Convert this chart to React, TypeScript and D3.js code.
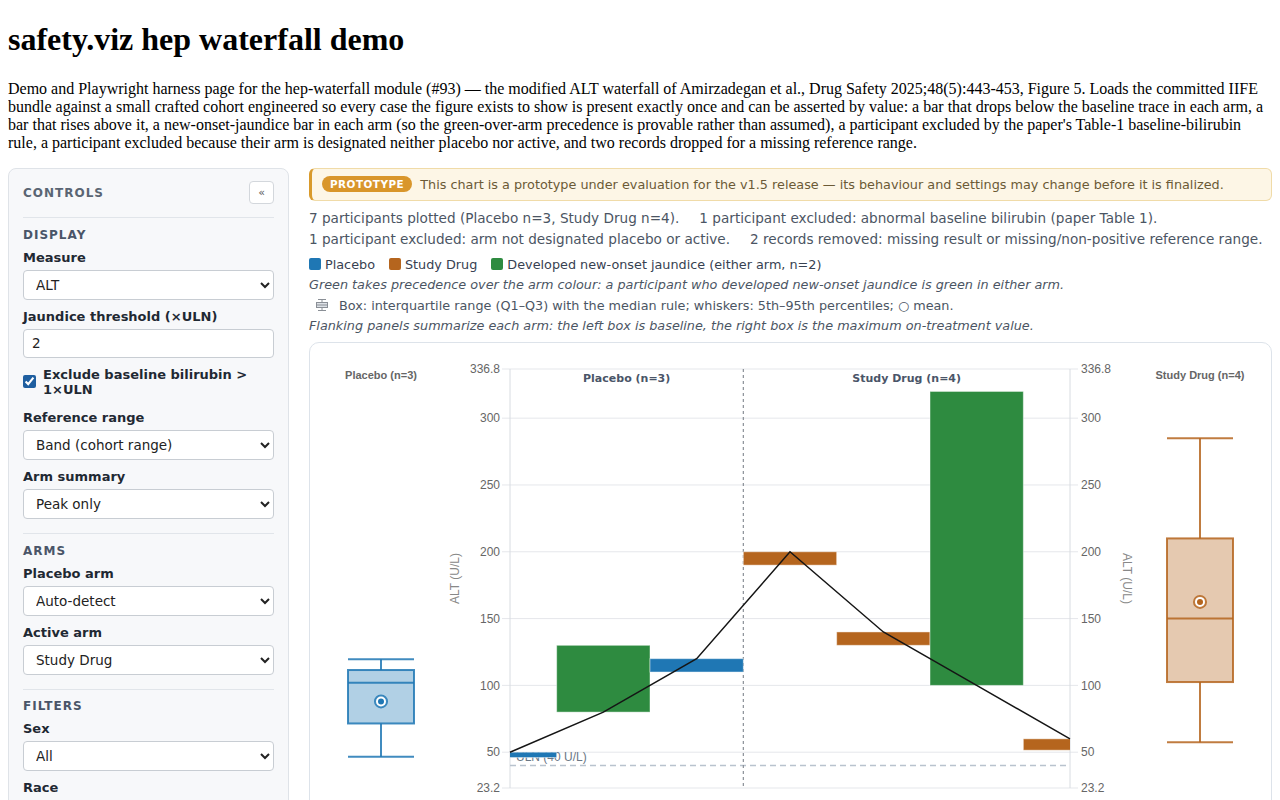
import React from "react";
import * as d3 from "d3";

// participants in plotted order (placebo first, then study drug)
const participantIds = ["P-01", "P-02", "P-03", "P-04", "P-05", "P-06", "P-07"];
const participantArm = ["Placebo", "Placebo", "Placebo", "Study Drug", "Study Drug", "Study Drug", "Study Drug"];
const baselineAlt = [50, 80, 120, 200, 140, 100, 60];
const peakAlt = [46, 130, 110, 190, 130, 320, 51.5];
const newJaundice = [false, true, false, false, false, true, false];

const armNames = ["Placebo", "Study Drug"];
const armCounts = [3, 4];
const yTickValues = [23.2, 50, 100, 150, 200, 250, 300, 336.8];
const yDomain = [23.2, 336.8];
const ulnAlt = 40;

// flanking summaries: p5, q1, median, q3, p95, mean
const placeboBox = [46.5, 71.5, 102, 111.5, 119.5, 88];
const studyBox = [57.5, 102.5, 150, 210, 285, 162.5];

const armColor: Record<string, string> = { Placebo: "#1f77b4", "Study Drug": "#b5651e" };
const jaundiceColor = "#2e8b40";

const sans = '"DejaVu Sans", sans-serif';
const axisFont = '"Liberation Sans", Arial, sans-serif';

const W = 961;
const H = 470;
const mL = 200;
const mT = 26;
const plotW = 560;
const plotH = 419;

function BoxPlot({ cx, stats, color, y }: { cx: number; stats: number[]; color: string; y: d3.ScaleLinear<number, number> }) {
  const [lo, q1, med, q3, hi, mean] = stats;
  const hw = 33;
  return (
    <g stroke={color} strokeOpacity={0.85} strokeWidth={2}>
      <line x1={cx} x2={cx} y1={y(hi)} y2={y(q3)} />
      <line x1={cx} x2={cx} y1={y(q1)} y2={y(lo)} />
      <line x1={cx - hw} x2={cx + hw} y1={y(hi)} y2={y(hi)} />
      <line x1={cx - hw} x2={cx + hw} y1={y(lo)} y2={y(lo)} />
      <rect x={cx - hw} y={y(q3)} width={hw * 2} height={y(q1) - y(q3)} fill={color} fillOpacity={0.35} />
      <line x1={cx - hw} x2={cx + hw} y1={y(med)} y2={y(med)} />
      <circle cx={cx} cy={y(mean)} r={6} fill="#fff" />
      <circle cx={cx} cy={y(mean)} r={3} fill={color} stroke="none" />
    </g>
  );
}

function Waterfall() {
  const x = d3.scalePoint<string>().domain(participantIds).range([mL, mL + plotW]);
  const step = x.step();
  const y = d3.scaleLinear().domain(yDomain).range([mT + plotH, mT]);
  const divider = ((x(participantIds[2]) as number) + (x(participantIds[3]) as number)) / 2;
  const trace = d3
    .line<number>()
    .x((_, i) => x(participantIds[i]) as number)
    .y((d) => y(d))(baselineAlt);

  return (
    <svg width={W} height={H} style={{ display: "block" }}>
      <defs>
        <clipPath id="plot-clip">
          <rect x={mL} y={mT} width={plotW} height={plotH} />
        </clipPath>
      </defs>
      {/* grid + ticks */}
      {yTickValues.map((t) => (
        <g key={t}>
          <line x1={mL - 8} x2={mL + plotW + 8} y1={y(t)} y2={y(t)} stroke="#e5e7eb" />
          <text x={mL - 10} y={y(t)} dy="0.35em" textAnchor="end" fontSize={12} fill="#666" fontFamily={axisFont}>
            {t}
          </text>
          <text x={mL + plotW + 11} y={y(t)} dy="0.35em" fontSize={12} fill="#666" fontFamily={axisFont}>
            {t}
          </text>
        </g>
      ))}
      <line x1={mL} x2={mL} y1={mT} y2={mT + plotH} stroke="#d8dce1" />
      <line x1={mL + plotW} x2={mL + plotW} y1={mT} y2={mT + plotH} stroke="#d8dce1" />
      <text transform={`translate(145,${mT + plotH / 2}) rotate(-90)`} textAnchor="middle" dy="0.35em" fontSize={12} fill="#888" fontFamily={axisFont}>
        ALT (U/L)
      </text>
      <text transform={`translate(817,${mT + plotH / 2}) rotate(90)`} textAnchor="middle" dy="0.35em" fontSize={12} fill="#888" fontFamily={axisFont}>
        ALT (U/L)
      </text>

      {/* ULN reference */}
      <line x1={mL} x2={mL + plotW} y1={y(ulnAlt)} y2={y(ulnAlt)} stroke="#b9c3ce" strokeWidth={1.5} strokeDasharray="6,4" />
      <text x={mL + 6} y={y(ulnAlt) - 5} fontSize={12} fill="#6b7785" fontFamily={axisFont}>
        ULN ({ulnAlt} U/L)
      </text>

      {/* arm divider and headers */}
      <line x1={divider} x2={divider} y1={mT} y2={mT + plotH} stroke="#8a8f96" strokeWidth={1.2} strokeDasharray="3,3" />
      <text x={(mL + divider) / 2} y={39} textAnchor="middle" fontSize={11} fontWeight="bold" fill="#4a5568" fontFamily={sans}>
        {armNames[0]} (n={armCounts[0]})
      </text>
      <text x={(divider + mL + plotW) / 2} y={39} textAnchor="middle" fontSize={11} fontWeight="bold" fill="#4a5568" fontFamily={sans}>
        {armNames[1]} (n={armCounts[1]})
      </text>

      {/* bars */}
      <g clipPath="url(#plot-clip)">
        {participantIds.map((id, i) => {
          const top = y(Math.max(baselineAlt[i], peakAlt[i]));
          const bottom = y(Math.min(baselineAlt[i], peakAlt[i]));
          return (
            <rect
              key={id}
              x={(x(id) as number) - step / 2}
              y={top}
              width={step}
              height={bottom - top}
              fill={newJaundice[i] ? jaundiceColor : armColor[participantArm[i]]}
              stroke="#fff"
              strokeOpacity={0.45}
            />
          );
        })}
      </g>
      <path d={trace ?? ""} fill="none" stroke="#151515" strokeWidth={1.5} />

      {/* flanking panels */}
      <text x={71} y={36} textAnchor="middle" fontSize={11} fontWeight="bold" fill="#666" fontFamily={axisFont}>
        {armNames[0]} (n={armCounts[0]})
      </text>
      <text x={890} y={36} textAnchor="middle" fontSize={11} fontWeight="bold" fill="#666" fontFamily={axisFont}>
        {armNames[1]} (n={armCounts[1]})
      </text>
      <BoxPlot cx={71} stats={placeboBox} color={armColor.Placebo} y={y} />
      <BoxPlot cx={890} stats={studyBox} color={armColor["Study Drug"]} y={y} />
    </svg>
  );
}

const labelStyle: React.CSSProperties = { fontSize: 13, fontWeight: "bold", lineHeight: "18px", marginBottom: 3, color: "#1f2933" };
const controlStyle: React.CSSProperties = {
  display: "block",
  width: "100%",
  height: 30,
  boxSizing: "border-box",
  border: "1px solid #c8cdd3",
  borderRadius: 4,
  background: "#fff",
  fontSize: 13.5,
  fontFamily: sans,
  color: "#222",
  padding: "0 8px",
  margin: 0,
};
const sectionStyle: React.CSSProperties = { fontSize: 12, fontWeight: "bold", letterSpacing: 1, color: "#4a5568", lineHeight: "18px", marginBottom: 5 };

function Field({ label, value }: { label: string; value: string }) {
  return (
    <div style={{ marginBottom: 8 }}>
      <div style={labelStyle}>{label}</div>
      <select style={controlStyle} defaultValue={value}>
        <option>{value}</option>
      </select>
    </div>
  );
}

const Rule = ({ m }: { m: string }) => <div style={{ height: 1, background: "#e1e5ea", margin: m }} />;

function Sidebar() {
  return (
    <div
      style={{
        width: 281,
        boxSizing: "border-box",
        background: "#f7f8fa",
        border: "1px solid #dfe3e8",
        borderRadius: 8,
        padding: "12px 14px",
        fontFamily: sans,
        flex: "none",
      }}
    >
      <div style={{ display: "flex", alignItems: "center", justifyContent: "space-between", height: 24 }}>
        <span style={{ fontSize: 12, fontWeight: "bold", letterSpacing: 1, color: "#5a6573" }}>CONTROLS</span>
        <span
          style={{
            width: 25,
            height: 23,
            boxSizing: "border-box",
            border: "1px solid #d3d7dc",
            borderRadius: 4,
            background: "#fff",
            fontSize: 11,
            color: "#555",
            display: "flex",
            alignItems: "center",
            justifyContent: "center",
          }}
        >
          «
        </span>
      </div>
      <Rule m="12px 0 8px" />
      <div style={sectionStyle}>DISPLAY</div>
      <Field label="Measure" value="ALT" />
      <div style={{ marginBottom: 9 }}>
        <div style={labelStyle}>Jaundice threshold (×ULN)</div>
        <input style={{ ...controlStyle, height: 29 }} defaultValue="2" />
      </div>
      <div style={{ display: "flex", alignItems: "center", gap: 7, marginBottom: 12 }}>
        <input type="checkbox" defaultChecked style={{ margin: 0, width: 13, height: 13, accentColor: "#1f5fa0" }} />
        <span style={{ fontSize: 13, fontWeight: "bold", lineHeight: "15px", color: "#1f2933" }}>
          Exclude baseline bilirubin &gt; 1×ULN
        </span>
      </div>
      <Field label="Reference range" value="Band (cohort range)" />
      <Field label="Arm summary" value="Peak only" />
      <Rule m="14px 0 8px" />
      <div style={sectionStyle}>ARMS</div>
      <Field label="Placebo arm" value="Auto-detect" />
      <Field label="Active arm" value="Study Drug" />
      <Rule m="14px 0 7px" />
      <div style={sectionStyle}>FILTERS</div>
      <Field label="Sex" value="All" />
      <Field label="Race" value="All" />
      <Field label="Age group" value="All" />
    </div>
  );
}

const Swatch = ({ color }: { color: string }) => (
  <span style={{ display: "inline-block", width: 12, height: 12, borderRadius: 2, background: color, marginRight: 4, verticalAlign: "-1px" }} />
);

export default function App() {
  const note: React.CSSProperties = { fontStyle: "italic", color: "#4b5563", lineHeight: "20px", height: 20, fontSize: 12.8 };
  return (
    <div>
      <h1 style={{ fontFamily: '"Liberation Serif", serif', marginTop: 13.4 }}>safety.viz hep waterfall demo</h1>
      <p style={{ fontFamily: '"Liberation Serif", serif' }}>
        Demo and Playwright harness page for the hep-waterfall module (#93) — the modified ALT waterfall of Amirzadegan et al., Drug
        Safety 2025;48(5):443-453, Figure 5. Loads the committed IIFE bundle against a small crafted cohort engineered so every case
        the figure exists to show is present exactly once and can be asserted by value: a bar that drops below the baseline trace in
        each arm, a bar that rises above it, a new-onset-jaundice bar in each arm (so the green-over-arm precedence is provable rather
        than assumed), a participant excluded by the paper's Table-1 baseline-bilirubin rule, a participant excluded because their arm
        is designated neither placebo nor active, and two records dropped for a missing reference range.
      </p>
      <div style={{ display: "flex", gap: 20, alignItems: "flex-start" }}>
        <Sidebar />
        <div style={{ width: 963, fontFamily: sans, flex: "none" }}>
          <div
            style={{
              height: 33,
              boxSizing: "border-box",
              background: "#fdf6e6",
              border: "1px solid #f0dba8",
              borderLeft: "3px solid #d99a2b",
              borderRadius: 6,
              display: "flex",
              alignItems: "center",
              paddingLeft: 10,
              fontSize: 12.8,
              color: "#6b5a36",
            }}
          >
            <span
              style={{
                background: "#d9962b",
                color: "#fff",
                fontWeight: "bold",
                fontSize: 10.4,
                letterSpacing: 0.5,
                borderRadius: 9,
                padding: "0 8px",
                height: 16,
                lineHeight: "16px",
                marginRight: 8,
              }}
            >
              PROTOTYPE
            </span>
            This chart is a prototype under evaluation for the v1.5 release — its behaviour and settings may change before it is
            finalized.
          </div>
          <div style={{ marginTop: 7, fontSize: 13.6, color: "#4b5563", lineHeight: "21px" }}>
            <div>
              <span style={{ marginRight: 20 }}>7 participants plotted (Placebo n=3, Study Drug n=4).</span>
              <span>1 participant excluded: abnormal baseline bilirubin (paper Table 1).</span>
            </div>
            <div>
              <span style={{ marginRight: 20 }}>1 participant excluded: arm not designated placebo or active.</span>
              <span>2 records removed: missing result or missing/non-positive reference range.</span>
            </div>
          </div>
          <div style={{ marginTop: 5, fontSize: 12.8, color: "#374151", lineHeight: "20px", height: 20 }}>
            <span style={{ marginRight: 14 }}>
              <Swatch color={armColor.Placebo} />
              Placebo
            </span>
            <span style={{ marginRight: 14 }}>
              <Swatch color={armColor["Study Drug"]} />
              Study Drug
            </span>
            <span>
              <Swatch color={jaundiceColor} />
              Developed new-onset jaundice (either arm, n=2)
            </span>
          </div>
          <div style={note}>
            Green takes precedence over the arm colour: a participant who developed new-onset jaundice is green in either arm.
          </div>
          <div style={{ fontSize: 12.8, color: "#4b5563", lineHeight: "21px", height: 21, display: "flex", alignItems: "center" }}>
            <svg width={14} height={14} style={{ marginLeft: 6, marginRight: 10 }}>
              <g stroke="#8a8f96" strokeWidth={1}>
                <line x1={7} x2={7} y1={1} y2={13} />
                <line x1={3} x2={11} y1={1.5} y2={1.5} />
                <line x1={3} x2={11} y1={12.5} y2={12.5} />
                <rect x={1.5} y={4.5} width={11} height={5} fill="#dde1e6" />
                <line x1={1.5} x2={12.5} y1={7} y2={7} />
              </g>
            </svg>
            Box: interquartile range (Q1–Q3) with the median rule; whiskers: 5th–95th percentiles; ○ mean.
          </div>
          <div style={note}>
            Flanking panels summarize each arm: the left box is baseline, the right box is the maximum on-treatment value.
          </div>
          <div style={{ marginTop: 6, border: "1px solid #dde3ea", borderRadius: 10, background: "#fff" }}>
            <Waterfall />
          </div>
        </div>
      </div>
    </div>
  );
}
